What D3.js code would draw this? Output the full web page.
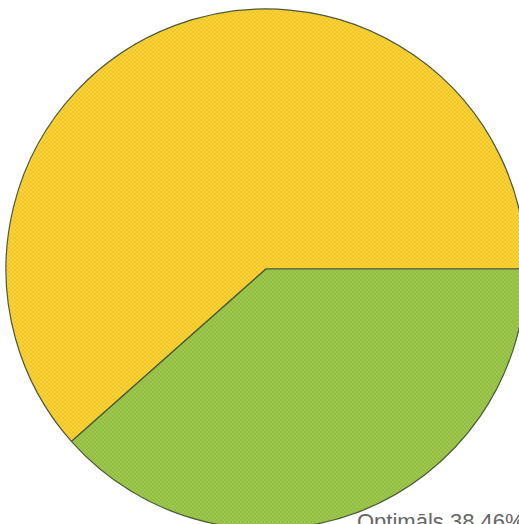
<!DOCTYPE html>
<html><head><meta charset="utf-8">
<script src="https://cdn.jsdelivr.net/npm/d3@7"></script>
<style>html,body{margin:0;padding:0;background:#fff;overflow:hidden}</style>
</head><body>
<svg id="c" width="519" height="524"></svg>
<script>
const categories = ["", "Optimāls"];
const values = [61.54, 38.46];
const colors = ["#FDD231", "#9CC94A"];

const svg = d3.select("#c");
const cx = 266, cy = 269, r = 260;
const g = svg.append("g").attr("transform", `translate(${cx},${cy})`);

// green slice starts at 3 o'clock and runs clockwise; yellow fills the rest
const endA = Math.PI/2 + 2*Math.PI*values[1]/(values[0] + values[1]);
const arcs = d3.pie().sort(null)
  .startAngle(endA - 2*Math.PI)
  .endAngle(endA)
  .value(d => d)(values);
const arc = d3.arc().innerRadius(0).outerRadius(r);

const defs = svg.append("defs");
colors.forEach((c, i) => {
  const p = defs.append("pattern").attr("id", "p" + i).attr("patternUnits", "userSpaceOnUse")
    .attr("width", 4).attr("height", 4);
  p.append("rect").attr("width", 4).attr("height", 4).attr("fill", c);
  p.append("circle").attr("cx", 1).attr("cy", 1).attr("r", 0.9).attr("fill", d3.color(c).darker(0.25));
  p.append("circle").attr("cx", 3).attr("cy", 3).attr("r", 0.9).attr("fill", d3.color(c).darker(0.25));
});

g.selectAll("path.s").data(arcs).join("path").attr("class", "s")
  .attr("d", arc)
  .attr("fill", (d, i) => `url(#p${i})`)
  .attr("stroke", "#4a5a3a").attr("stroke-width", 1.2).attr("stroke-linejoin", "round");

svg.append("text").attr("x", 357).attr("y", 529)
  .attr("font-family", "Arial, 'Liberation Sans', sans-serif").attr("font-size", 22)
  .attr("fill", "#666").text(`${categories[1]} ${values[1].toFixed(2)}%`);
</script>
</body></html>
